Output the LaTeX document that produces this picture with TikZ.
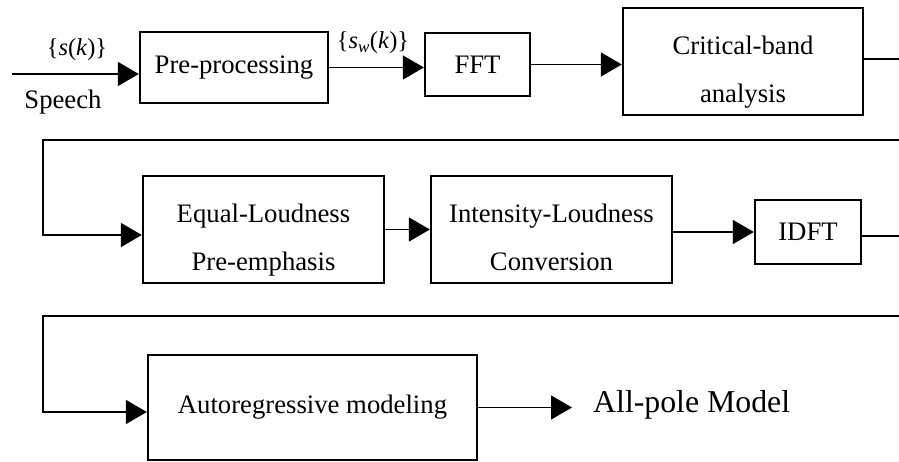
\documentclass[tikz,border=0pt]{standalone}
\usepackage{fontspec}
\setmainfont{Liberation Serif}
\usetikzlibrary{arrows.meta}
\newcommand{\twolines}[2]{\raisebox{-7pt}[\height][\depth]{\begin{tabular}{@{}c@{}}#1\\#2\end{tabular}}}
\begin{document}
\begin{tikzpicture}[x=1pt,y=-1pt,
  blk/.style={draw,line width=2.3pt,rectangle,inner sep=0pt,align=center,font=\fontsize{26.7}{48}\selectfont},
  conn/.style={line width=1.4pt},
  arr/.style={conn,-{Triangle[length=21pt,width=24pt]}},
  lbl/.style={inner sep=0pt,font=\fontsize{26.7}{32}\selectfont}]
\useasboundingbox (0,0) rectangle (899,462);

% boxes
\node[blk,minimum width=188pt,minimum height=71pt] (pre) at (234,67.5) {Pre-processing};
\node[blk,minimum width=105pt,minimum height=63pt] (fft) at (477.5,64.5) {FFT};
\node[blk,minimum width=240pt,minimum height=107pt] (cba) at (743,61.5) {\twolines{Critical-band}{analysis}};
\node[blk,minimum width=241pt,minimum height=107pt] (elp) at (263.5,229.5) {\twolines{Equal-Loudness}{Pre-emphasis}};
\node[blk,minimum width=241pt,minimum height=107pt] (ilc) at (551.5,229.5) {\twolines{Intensity-Loudness}{Conversion}};
\node[blk,minimum width=106pt,minimum height=64pt] (idft) at (808,232) {IDFT};
\node[blk,minimum width=329pt,minimum height=105pt] (ar) at (312.5,407.5) {Autoregressive modeling};

% labels
\node[lbl,font=\fontsize{24.4}{28}\selectfont] (sk) at (77,50) {\{\textit{s}(\textit{k})\}};
\node[lbl] (sp) at (63,102) {Speech};
\node[lbl,font=\fontsize{24.4}{28}\selectfont] (swk) at (373,43) {\{\textit{s}\textsubscript{\textit{w}}(\textit{k})\}};
\node[lbl,anchor=west,font=\fontsize{31.8}{36}\selectfont] (apm) at (593,405) {All-pole Model};

% connectors
\coordinate (in0) at (12,74);
\draw[arr] (in0) -- (in0 -| pre.west);
\draw[arr] (pre.east) -- (pre.east -| fft.west);
\draw[arr] (fft.east) -- (fft.east -| cba.west);
\coordinate (o1) at (899,59);
\draw[conn] (o1 -| cba.east) -- (o1);

\coordinate (r1e) at (899,140);
\coordinate (r1w) at (43,140);
\coordinate (elpin) at ([yshift=-5.5pt]elp.west);
\draw[arr] (r1e) -- (r1w) |- (elpin);
\draw[arr] (elp.east) -- (elp.east -| ilc.west);
\draw[arr] (idft.west -| ilc.east) -- (idft.west);
\coordinate (o2) at (899,236);
\draw[conn] (o2 -| idft.east) -- (o2);

\coordinate (r2e) at (899,316);
\coordinate (r2w) at (43,316);
\coordinate (arin) at ([yshift=-4.5pt]ar.west);
\draw[arr] (r2e) -- (r2w) |- (arin);
\coordinate (tip) at ([xshift=-21pt]apm.west);
\draw[arr] (ar.east) -- (tip |- ar.east);
\end{tikzpicture}
\end{document}
